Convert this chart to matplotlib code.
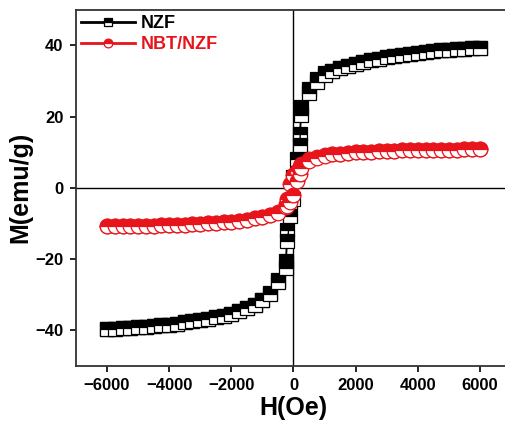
import matplotlib
matplotlib.use('Agg')
import matplotlib.pyplot as plt

# field values (Oe), descending branch +6000 -> -6000
h_desc = [6000, 5750, 5500, 5250, 5000, 4750, 4500, 4250, 4000, 3750, 3500, 3250,
          3000, 2750, 2500, 2250, 2000, 1750, 1500, 1250, 1000, 750, 500, 250,
          200, 100, 0, -100, -200,
          -250, -500, -750, -1000, -1250, -1500, -1750, -2000, -2250, -2500, -2750,
          -3000, -3250, -3500, -3750, -4000, -4250, -4500, -4750, -5000, -5250,
          -5500, -5750, -6000]
# ascending branch -6000 -> +6000
h_asc = h_desc[::-1]

# NZF magnetisation (emu/g)
nzf_desc = [39.3, 39.2, 39.1, 38.9, 38.8, 38.6, 38.4, 38.2, 38.0, 37.7, 37.4, 37.1,
            36.7, 36.3, 35.8, 35.3, 34.8, 34.2, 33.6, 32.9, 32.2, 30.6, 27.8, 22.8,
            15.0, 8.0, 3.0, -4.0, -11.8,
            -20.5, -26.0, -29.6, -31.6, -32.8, -33.8, -34.6, -35.3, -35.9, -36.4, -36.8,
            -37.2, -37.5, -37.8, -38.1, -38.4, -38.6, -38.8, -39.0, -39.2, -39.3,
            -39.4, -39.5, -39.6]
nzf_asc = [-39.6, -39.5, -39.4, -39.3, -39.2, -39.0, -38.8, -38.6, -38.4, -38.1,
           -37.8, -37.5, -37.2, -36.8, -36.4, -35.9, -35.3, -34.6, -33.8, -32.8,
           -31.6, -29.8, -26.5, -22.5,
           -15.0, -8.0, -3.0, 4.0, 12.0,
           20.5, 26.5, 29.6, 31.8, 32.9, 33.6, 34.2, 34.8, 35.3, 35.8, 36.3,
           36.7, 37.1, 37.4, 37.7, 38.0, 38.2, 38.4, 38.6, 38.8, 38.9, 39.1, 39.2, 39.3]

# NBT/NZF magnetisation (emu/g)
nbt_desc = [10.8, 10.8, 10.8, 10.7, 10.7, 10.7, 10.6, 10.6, 10.6, 10.5, 10.5, 10.4,
            10.4, 10.3, 10.2, 10.1, 10.0, 9.8, 9.6, 9.4, 9.1, 8.7, 8.0, 6.6,
            6.0, 4.8, 3.5, 1.0, -3.0,
            -4.5, -6.8, -7.6, -8.2, -8.6, -9.0, -9.3, -9.5, -9.7, -9.9, -10.0,
            -10.1, -10.2, -10.3, -10.4, -10.5, -10.5, -10.6, -10.6, -10.7, -10.7,
            -10.8, -10.8, -10.8]
nbt_asc = [-10.8, -10.8, -10.8, -10.7, -10.7, -10.6, -10.6, -10.5, -10.5, -10.4,
           -10.3, -10.2, -10.1, -10.0, -9.9, -9.7, -9.5, -9.3, -9.0, -8.6,
           -8.2, -7.6, -7.0, -5.5,
           -5.0, -4.0, -2.0, 2.0, 4.0,
           5.5, 7.6, 8.5, 9.0, 9.4, 9.6, 9.8, 10.0, 10.1, 10.2, 10.3,
           10.4, 10.4, 10.5, 10.5, 10.6, 10.6, 10.6, 10.7, 10.7, 10.7, 10.8, 10.8, 10.8]

xticks = [-6000, -4000, -2000, 0, 2000, 4000, 6000]
yticks = [-40, -20, 0, 20, 40]

red = '#e8141c'
plt.rcParams['font.family'] = ['Liberation Sans', 'DejaVu Sans']
plt.rcParams['font.weight'] = 'bold'

fig = plt.figure(figsize=(5.06, 4.26), dpi=100)
ax = fig.add_axes([0.150, 0.141, 0.860, 0.836])

ax.axhline(0, color='black', lw=1.0, zorder=1)
ax.axvline(0, color='black', lw=1.0, zorder=1)

sq = dict(color='black', lw=1.0, marker='s', ms=9.5, mec='black', mew=0.9,
          mfc='black', fillstyle='top', mfcalt='white', zorder=3)
ci = dict(color=red, lw=1.0, marker='o', ms=10.5, mec=red, mew=0.9,
          mfc=red, fillstyle='top', mfcalt='white', zorder=4)

ax.plot(h_desc, nzf_desc, label='NZF', **sq)
ax.plot(h_asc, nzf_asc, **sq)
ax.plot(h_desc, nbt_desc, label='NBT/NZF', **ci)
ax.plot(h_asc, nbt_asc, **ci)

ax.set_xlim(-7000, 7000)
ax.set_ylim(-50, 50)
ax.set_xticks(xticks)
ax.set_yticks(yticks)
ax.tick_params(direction='out', length=4, width=1.2, labelsize=12, pad=5,
               top=False, right=False)
for s in ax.spines.values():
    s.set_linewidth(1.3)
    s.set_color('#333333')

ax.set_xlabel('H(Oe)', fontsize=18, fontweight='bold', labelpad=2)
ax.set_ylabel('M(emu/g)', fontsize=18, fontweight='bold', labelpad=2)

leg = ax.legend(loc='upper left', frameon=False, fontsize=13, markerscale=0.6,
                handlelength=3.0, handletextpad=0.3, borderaxespad=0.1,
                labelspacing=0.2, borderpad=0.2)
for t, c in zip(leg.get_texts(), ['black', red]):
    t.set_color(c)
for ln in leg.get_lines():
    ln.set_linewidth(2.0)

fig.savefig('out.png', dpi=100)
